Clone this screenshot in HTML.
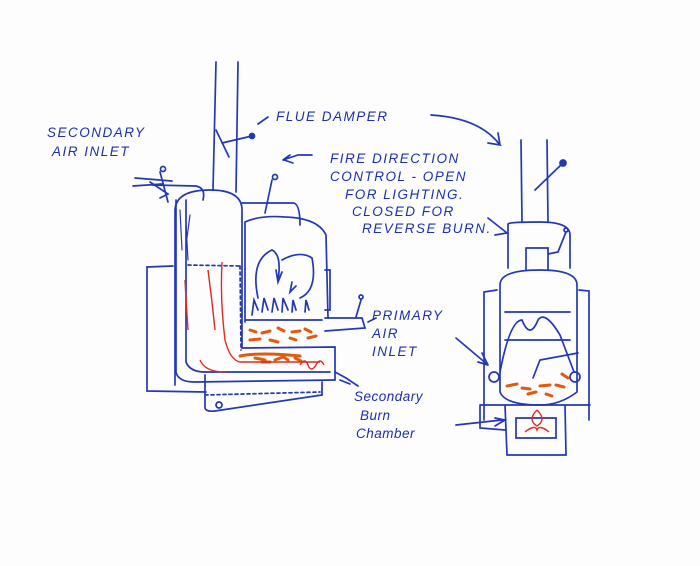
<!DOCTYPE html>
<html><head><style>
html,body{margin:0;padding:0;background:#fff;}
svg{display:block}
text{font-family:"Liberation Sans",sans-serif;font-style:italic;fill:#1b2fb0;font-size:13.5px;letter-spacing:1.5px}
</style></head><body>
<svg width="700" height="566" viewBox="0 0 700 566" xmlns="http://www.w3.org/2000/svg">
<rect width="700" height="566" fill="#fdfdfd"/>
<g fill="none" stroke="#2437b5" stroke-width="1.7" stroke-linecap="round">
<!-- LEFT STOVE -->
<path d="M216 62 L213 190 M238 62 L236 192"/>
<path d="M216 130 L229 157 M222 143 L252 136"/>
<circle cx="252" cy="136" r="2.5" fill="#2437b5"/>
<path d="M258 124 L268 117"/>
<path d="M160 172 L168 202 M135 178 L172 181 M133 186 L162 184 M150 182 L168 194 L160 198"/>
<circle cx="163" cy="169" r="2.5"/>
<path d="M152 185 L196 186 Q206 188 203 200"/>
<path d="M176 200 L176 372 Q178 382 195 382 L335 380"/>
<path d="M186 200 L186 362 Q190 372 205 372 L330 372"/>
<path d="M175 385 L175 210 Q176 190 210 190 Q242 190 242 210 L242 348"/>
<path d="M242 203 L294 203 Q300 205 300 225"/>
<path d="M272 180 L265 213"/><circle cx="275" cy="177" r="2.5"/>
<path d="M283 160 L298 155 L312 155 M283 160 L290 155 M284 160 L293 163"/>
<path d="M245 222 Q260 215 285 217 Q318 218 326 235 L328 318 M245 222 L245 322"/>
<path d="M325 270 L330 270 L330 310 L325 310"/>
<path d="M258 298 Q250 260 272 250 Q282 255 278 280 M276 270 L278 282 L282 272 M282 260 Q300 250 312 258 Q318 290 300 298 M292 282 L290 292 L296 286"/>
<path d="M252 315 L254 300 L258 310 M262 312 L264 298 L268 310 M272 312 L274 298 L278 310 M282 312 L283 298 L288 310 M292 312 L293 300 L296 310 M305 312 L306 300 L309 310"/>
<path d="M246 320 L322 320 M325 318 L362 318 L365 328 L325 331"/>
<path d="M356 317 L361 300"/><circle cx="361" cy="297" r="2"/>
<path d="M368 322 L376 318"/>
<path d="M242 348 L335 347 L335 380"/>
<path d="M173 266 L147 267 L147 391 L206 392"/>
<path d="M205 375 L205 408 Q206 412 215 411 L322 395 L322 382"/>
<circle cx="219" cy="405" r="3"/>
<path d="M188 265 L240 266 M240 266 L241 350" stroke-dasharray="3 3"/>
<path d="M205 395 L320 392" stroke-dasharray="3 3"/>
<path d="M346 378 L335 372 M346 378 L358 386 M340 380 L350 384"/>
<path d="M180 210 L182 250 M186 225 L188 260 M190 215 L186 245" stroke-width="1.2"/>
<!-- RIGHT STOVE -->
<path d="M521 140 L522 222 M547 140 L548 222"/>
<path d="M535 190 L563 163"/><circle cx="563" cy="163" r="3" fill="#2437b5"/>
<path d="M431 115 Q480 118 500 145 L488 143 M500 145 L498 133"/>
<path d="M508 224 Q508 222 540 222 Q570 222 570 235 L570 268 M508 224 L508 268"/>
<path d="M488 218 L507 233 L495 235"/>
<path d="M526 248 L548 248 L548 270 M526 248 L526 270"/>
<path d="M548 254 L558 252 L566 232"/><circle cx="566" cy="230" r="2"/>
<path d="M500 392 L500 285 Q500 270 540 270 Q577 270 577 285 L577 392 Q560 405 540 405 Q505 405 500 392"/>
<path d="M497 290 L484 292 L484 420 M579 290 L589 291 L589 420"/>
<path d="M505 312 L570 312 M505 340 L570 340"/>
<path d="M500 372 Q510 320 522 320 Q530 340 538 320 Q545 310 560 335 L574 372"/>
<path d="M578 353 L540 360 L533 378"/>
<circle cx="494" cy="377" r="5"/><circle cx="575" cy="377" r="5"/>
<path d="M456 338 L488 365 L482 353 M488 365 L478 362"/>
<path d="M480 405 L590 405 M480 405 L480 428 L505 430 M505 405 L507 455 L566 455 L565 405"/>
<path d="M456 425 L502 420 M495 418 L505 420 L495 426"/>
<path d="M516 418 L556 418 L556 438 L516 438 Z"/>
</g>
<g fill="none" stroke="#e05a10" stroke-width="3" stroke-linecap="round">
<path d="M250 330 l6 2 M262 333 l8 -2 M278 328 l6 3 M292 332 l8 -1 M305 329 l6 3 M250 340 l10 -1 M270 340 l8 2 M290 338 l6 2 M308 338 l8 -2"/>
<path d="M240 356 Q260 352 300 356 M255 358 l10 2 M275 360 l8 -3 M295 358 l6 3 M262 362 l8 0 M282 356 l6 4"/>
<path d="M507 386 l10 -2 M522 388 l8 1 M540 386 l10 -1 M556 385 l8 2 M528 394 l8 -2 M546 394 l6 2 M562 374 l6 4"/>
</g>
<g fill="none" stroke="#e02a20" stroke-width="1.4">
<path d="M185 280 Q186 300 188 330 M208 270 Q212 300 215 330 M222 262 Q220 300 225 340 Q230 360 240 362 L320 362 M200 360 Q205 372 225 372"/>
<path d="M300 365 q5 -8 8 0 q3 8 8 0 q4 -8 8 0"/>
<path d="M537 410 q-10 10 0 16 q10 -6 0 -16 M525 432 q10 -8 12 -2 q2 -6 12 2"/>
</g>
<text x="47" y="137">SECONDARY</text>
<text x="52" y="156">AIR INLET</text>
<text x="276" y="121">FLUE DAMPER</text>
<text x="330" y="163">FIRE DIRECTION</text>
<text x="330" y="181">CONTROL - OPEN</text>
<text x="345" y="199">FOR LIGHTING.</text>
<text x="352" y="216">CLOSED FOR</text>
<text x="362" y="233">REVERSE BURN.</text>
<text x="372" y="320">PRIMARY</text>
<text x="372" y="338">AIR</text>
<text x="372" y="356">INLET</text>
<text x="354" y="401" style="letter-spacing:0.5px">Secondary</text>
<text x="360" y="420" style="letter-spacing:0.5px">Burn</text>
<text x="356" y="438" style="letter-spacing:0.5px">Chamber</text>
</svg>
</body></html>
